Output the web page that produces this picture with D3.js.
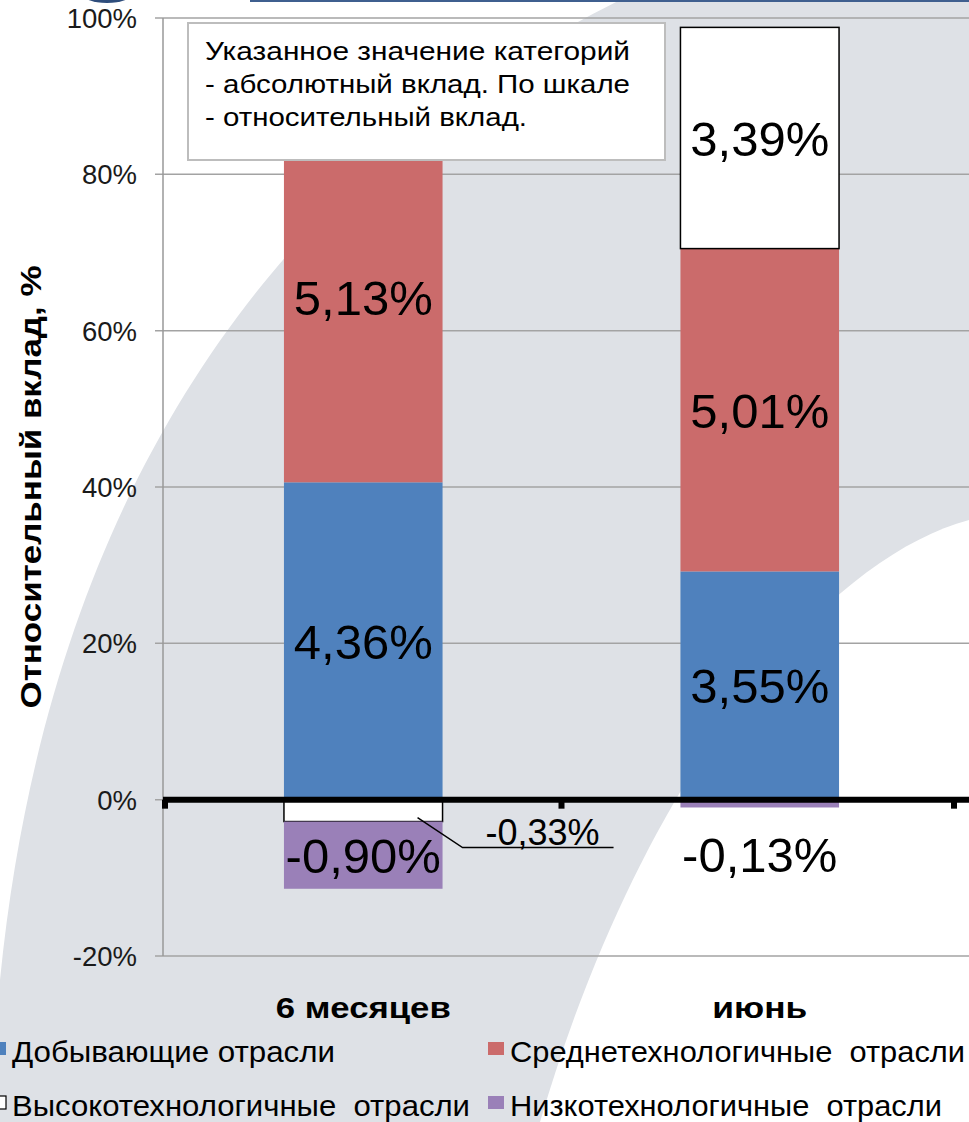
<!DOCTYPE html>
<meta charset="utf-8">
<head>
    <title>Относительный вклад</title>
    <script src="https://cdn.jsdelivr.net/npm/d3@7"></script>
    <style>
        body { margin: 0; background: #fff; }
        svg { display: block; font-family: "Liberation Sans", Arial, sans-serif; }
    </style>
</head>
<body>
<svg id="svg" width="969" height="1122"></svg>
<script>
    // categories and series (relative contribution, % of scale)
    const categories = ['6 месяцев', 'июнь']
    const seriesNames = ['Добывающие отрасли', 'Среднетехнологичные  отрасли',
        'Высокотехнологичные  отрасли', 'Низкотехнологичные  отрасли']
    const seriesColors = ['#4f81bd', '#cb6b6b', '#ffffff', '#9a80b8']

    const mining = [40.6, 29.2]
    const midTech = [47.2, 41.3]
    const highTech = [-2.8, 28.3]
    const lowTech = [-8.6, -1.0]

    // absolute contribution shown as labels
    const miningLabels = ['4,36%', '3,55%']
    const midTechLabels = ['5,13%', '5,01%']
    const highTechLabels = ['-0,33%', '3,39%']
    const lowTechLabels = ['-0,90%', '-0,13%']
    // where each label goes: inside, callout, below
    const labelModes = [['in', 'in', 'callout', 'in'], ['in', 'in', 'in', 'below']]

    const yTicks = [-20, 0, 20, 40, 60, 80, 100]

    const note = ['Указанное значение категорий', '- абсолютный вклад. По шкале', '- относительный вклад.']

    const svg = d3.select('#svg')

    // slide background watermark
    svg.append('rect').attr('width', 969).attr('height', 1122).attr('fill', '#dee1e6')
    svg.append('path').attr('fill', '#fff')
        .attr('d', 'M0,0 L620,0 C380,120 60,380 0,980 Z')
    svg.append('path').attr('fill', '#fff')
        .attr('d', 'M969,520 C820,560 640,780 540,1122 L969,1122 Z')
    svg.append('line').attr('x1', 250).attr('x2', 969).attr('y1', 1).attr('y2', 1)
        .attr('stroke', '#3f5f8f').attr('stroke-width', 2)
    svg.append('ellipse').attr('cx', 107).attr('cy', -7).attr('rx', 26).attr('ry', 10)
        .attr('fill', '#2e4d7c')

    const y = d3.scaleLinear().domain([-20, 100]).range([956, 18])
    const x = d3.scaleBand().domain(categories).range([165, 958])
        .paddingInner(0.6).paddingOuter(0.3)

    // gridlines
    svg.append('g').selectAll('line').data(yTicks).enter().append('line')
        .attr('x1', 155).attr('x2', 969)
        .attr('y1', d => y(d)).attr('y2', d => y(d))
        .attr('stroke', '#a3a3a3').attr('stroke-width', 1.5)

    // left axis line
    svg.append('line').attr('x1', 163).attr('x2', 163).attr('y1', y(100)).attr('y2', y(-20))
        .attr('stroke', '#999').attr('stroke-width', 1.5)

    // tick labels
    svg.append('g').selectAll('text').data(yTicks).enter().append('text')
        .attr('x', 137).attr('y', d => y(d)).attr('dy', '0.36em')
        .attr('text-anchor', 'end').attr('font-size', 27.5).attr('fill', '#1a1a1a')
        .text(d => d + '%')

    // stacked bars
    const table = categories.map((c, i) => ({
        cat: c, s0: mining[i], s1: midTech[i], s2: highTech[i], s3: lowTech[i]
    }))
    const labels = [miningLabels, midTechLabels, highTechLabels, lowTechLabels]
    const keys = ['s0', 's1', 's2', 's3']
    const stacked = d3.stack().keys(keys).offset(d3.stackOffsetDiverging)(table)

    stacked.forEach((layer, k) => {
        svg.append('g').selectAll('rect').data(layer).enter().append('rect')
            .attr('x', d => x(d.data.cat))
            .attr('width', x.bandwidth())
            .attr('y', d => y(Math.max(d[0], d[1])))
            .attr('height', d => Math.abs(y(d[0]) - y(d[1])))
            .attr('fill', seriesColors[k])
            .attr('stroke', k == 2 ? '#000' : 'none')
            .attr('stroke-width', 1.5)
    })

    // x axis (thick zero line)
    svg.append('line').attr('x1', 163).attr('x2', 969).attr('y1', y(0)).attr('y2', y(0))
        .attr('stroke', '#000').attr('stroke-width', 6)
    svg.append('g').selectAll('rect').data([165, x.step() + 165, 2 * x.step() + 165 - 4]).enter()
        .append('rect').attr('x', d => d - 3).attr('y', y(0)).attr('width', 6).attr('height', 9)
        .attr('fill', '#000')

    // data labels
    stacked.forEach((layer, k) => {
        layer.forEach((d, i) => {
            const mode = labelModes[i][k]
            const cx = x(d.data.cat) + x.bandwidth() / 2
            const top = y(Math.max(d[0], d[1]))
            const bottom = y(Math.min(d[0], d[1]))
            if (mode == 'in') {
                svg.append('text').attr('x', cx).attr('y', (top + bottom) / 2).attr('dy', '0.36em')
                    .attr('text-anchor', 'middle').attr('font-size', 49).text(labels[k][i])
            } else if (mode == 'below') {
                svg.append('text').attr('x', cx).attr('y', bottom + 47).attr('dy', '0.36em')
                    .attr('text-anchor', 'middle').attr('font-size', 49).text(labels[k][i])
            } else {
                const right = x(d.data.cat) + x.bandwidth()
                svg.append('polyline')
                    .attr('points', [[right - 25, bottom - 4], [right + 20, bottom + 26], [right + 171, bottom + 26]].join(' '))
                    .attr('fill', 'none').attr('stroke', '#000').attr('stroke-width', 1.5)
                svg.append('text').attr('x', right + 100).attr('y', bottom + 23)
                    .attr('text-anchor', 'middle').attr('font-size', 36).text(labels[k][i])
            }
        })
    })

    // note box
    svg.append('rect').attr('x', 188).attr('y', 23).attr('width', 477).attr('height', 137)
        .attr('fill', '#fff').attr('stroke', '#bdbdbd').attr('stroke-width', 2)
    const noteWidths = [425, 425, 322]
    svg.append('g').selectAll('text').data(note).enter().append('text')
        .attr('x', 205).attr('y', (d, i) => 60 + i * 33)
        .attr('font-size', 26).attr('textLength', (d, i) => noteWidths[i])
        .attr('lengthAdjust', 'spacingAndGlyphs')
        .text(d => d)

    // category labels
    const catWidths = [175, 95]
    svg.append('g').selectAll('text').data(categories).enter().append('text')
        .attr('x', d => x(d) + x.bandwidth() / 2 - catWidths[categories.indexOf(d)] / 2)
        .attr('y', 1018).attr('font-size', 29).attr('font-weight', 'bold')
        .attr('textLength', (d, i) => catWidths[i]).attr('lengthAdjust', 'spacingAndGlyphs')
        .text(d => d)

    // y title
    svg.append('text')
        .attr('transform', 'translate(41,487) rotate(-90)')
        .attr('text-anchor', 'middle').attr('font-size', 30).attr('font-weight', 'bold')
        .attr('textLength', 443).attr('lengthAdjust', 'spacingAndGlyphs')
        .text('Относительный вклад, %')

    // legend
    const legendPos = [[12, 1062], [510, 1062], [12, 1116], [510, 1116]]
    const legendWidths = [323, 455, 458, 432]
    seriesNames.forEach((name, k) => {
        const [lx, ly] = legendPos[k]
        svg.append('rect').attr('x', lx - 22).attr('y', ly - 20).attr('width', 16).attr('height', 13)
            .attr('fill', seriesColors[k])
            .attr('stroke', k == 2 ? '#000' : 'none').attr('stroke-width', 1.2)
        svg.append('text').attr('x', lx).attr('y', ly).attr('font-size', 29)
            .attr('textLength', legendWidths[k]).attr('lengthAdjust', 'spacingAndGlyphs')
            .style('white-space', 'pre')
            .text(name)
    })
</script>
</body>
</html>
